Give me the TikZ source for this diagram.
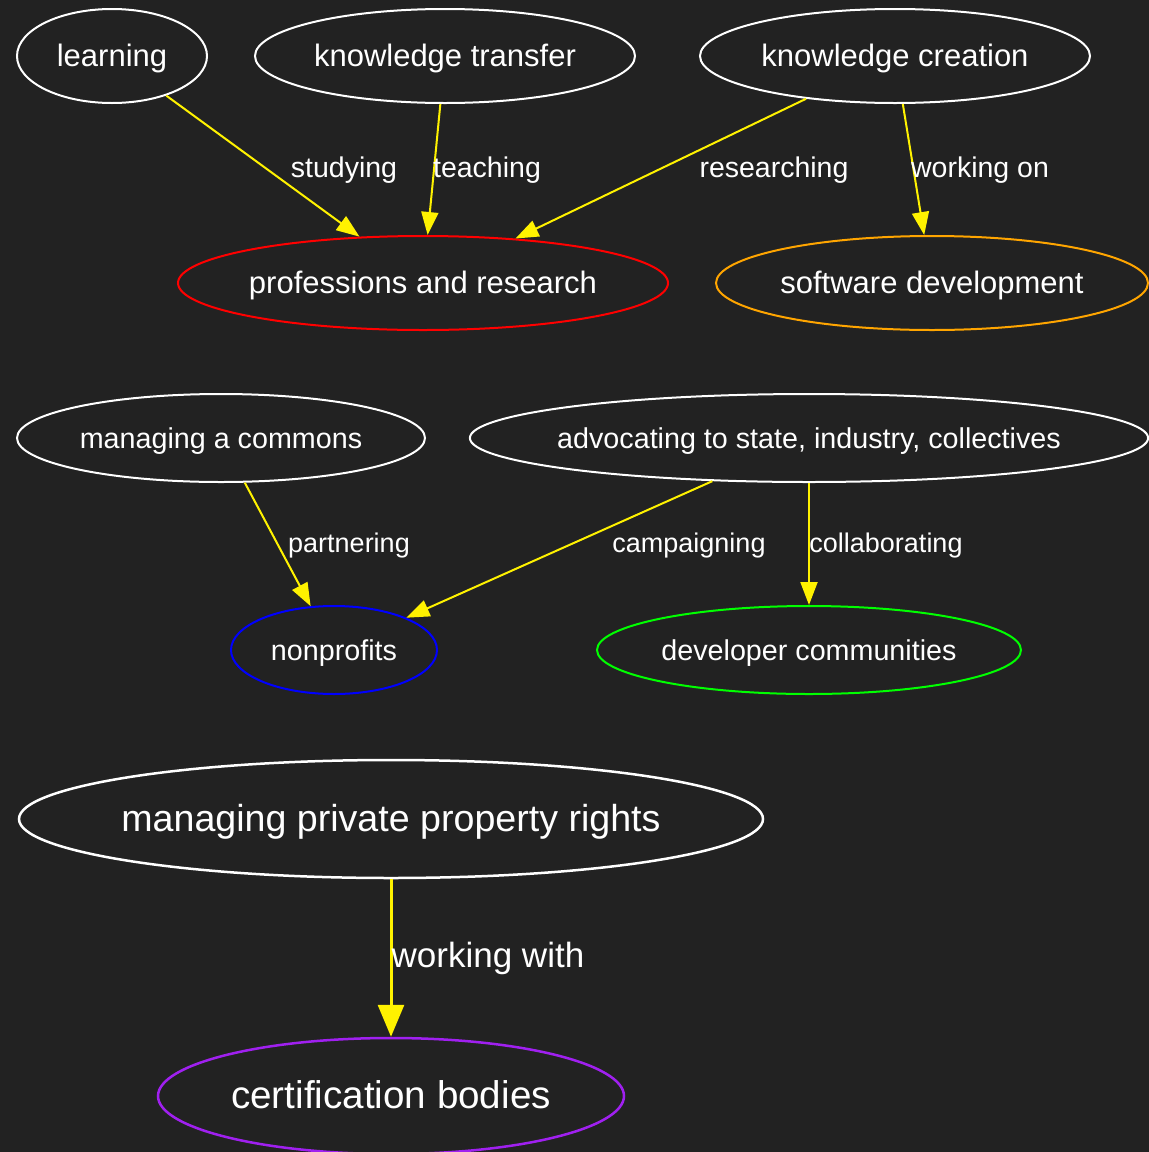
\documentclass[tikz,border=0pt]{standalone}
\usepackage{fontspec}
\setmainfont{Liberation Sans}
\usetikzlibrary{shapes.geometric,arrows.meta}
\definecolor{bg}{HTML}{222222}
\definecolor{gvorange}{HTML}{FFA500}
\definecolor{gvpurple}{HTML}{A020F0}
\definecolor{gvgreen}{HTML}{00FF00}
\tikzset{
  nd/.style={ellipse, draw=white, line width=2pt, text=white, inner sep=0pt, text depth=0pt},
  big/.style={font=\fontsize{31}{37}\selectfont, text height=21.7pt},
  mid/.style={font=\fontsize{28.7}{34}\selectfont, text height=20pt},
  huge/.style={font=\fontsize{37.6}{44}\selectfont, line width=2.5pt, text height=25pt},
  hugeb/.style={font=\fontsize{38.6}{45}\selectfont, line width=2.5pt, text height=25.5pt},
  ed/.style={draw=yellow, line width=2pt, -{Triangle[length=23pt,width=17pt]}},
  edbig/.style={draw=yellow, line width=3pt, -{Triangle[length=32pt,width=26pt]}},
  lbl/.style={text=white, inner sep=0pt, text depth=0pt},
  lbltop/.style={lbl, font=\fontsize{28.5}{34}\selectfont, text height=20pt},
  lblmid/.style={lbl, font=\fontsize{27}{32}\selectfont, text height=19pt},
  lblbig/.style={lbl, font=\fontsize{35}{42}\selectfont, text height=24.5pt}
}
\begin{document}
\begin{tikzpicture}[x=1pt,y=-1pt]
\useasboundingbox (0,0) rectangle (1149,1152);
\fill[bg] (0,0) rectangle (1149,1152);
% top row
\node[nd,big,minimum width=190pt,minimum height=94pt] (learn) at (112,56) {learning};
\node[nd,big,minimum width=380pt,minimum height=94pt] (ktrans) at (445,56) {knowledge transfer};
\node[nd,big,minimum width=390pt,minimum height=94pt] (kcreate) at (895,56) {knowledge creation};
\node[nd,big,draw=red,minimum width=490pt,minimum height=94pt,inner xsep=-1pt] (prof) at (423,283) {professions and research};
\node[nd,big,draw=gvorange,minimum width=432pt,minimum height=94pt] (soft) at (932,283) {software development};
% middle
\node[nd,mid,minimum width=408pt,minimum height=88pt,inner xsep=-1pt] (commons) at (221,438) {managing a commons};
\node[nd,mid,minimum width=678pt,minimum height=88pt,inner xsep=-12pt] (advoc) at (809,438) {advocating to state, industry, collectives};
\node[nd,mid,draw=blue,minimum width=206pt,minimum height=88pt] (nonprof) at (334,650) {nonprofits};
\node[nd,mid,draw=gvgreen,minimum width=424pt,minimum height=88pt] (devcom) at (809,650) {developer communities};
% bottom
\node[nd,huge,minimum width=744pt,minimum height=118pt,inner xsep=-9pt] (priv) at (391,819) {managing private property rights};
\node[nd,hugeb,draw=gvpurple,minimum width=466pt,minimum height=116pt] (cert) at (391,1096) {certification bodies};
% edges
\draw[ed] (learn) -- (prof);
\draw[ed] (ktrans) -- (prof);
\draw[ed] (kcreate) -- (prof);
\draw[ed] (kcreate) -- (soft);
\draw[ed] (commons) -- (nonprof);
\draw[ed] (advoc) -- (nonprof);
\draw[ed] (advoc) -- (devcom);
\draw[edbig] (priv) -- (cert);
% labels
\node[lbltop] (l1) at (344,167) {studying};
\node[lbltop] (l2) at (487,167) {teaching};
\node[lbltop] (l3) at (774,167) {researching};
\node[lbltop] (l4) at (980,167) {working on};
\node[lblmid] (l5) at (349,543) {partnering};
\node[lblmid] (l6) at (689,543) {campaigning};
\node[lblmid] (l7) at (886,543) {collaborating};
\node[lblbig] (l8) at (488,955) {working with};
\end{tikzpicture}
\end{document}
